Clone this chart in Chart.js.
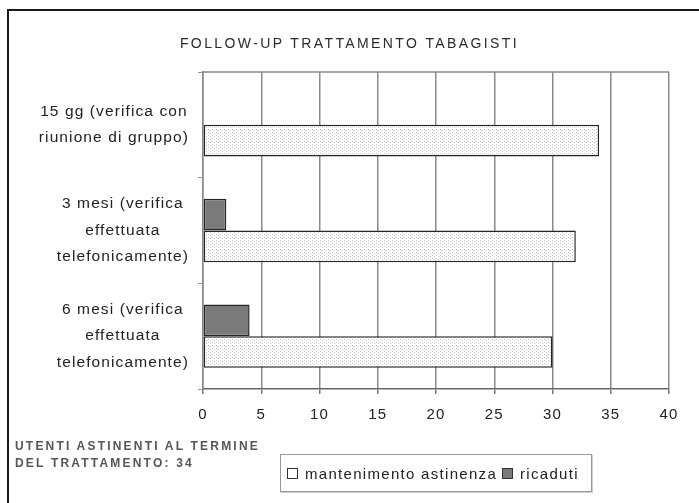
<!DOCTYPE html>
<html>
<head>
<meta charset="utf-8">
<script src="https://cdn.jsdelivr.net/npm/chart.js@4.4.1/dist/chart.umd.min.js"></script>
<style>
  html, body { margin: 0; padding: 0; background: #fff; overflow: hidden; }
  #wrap { position: relative; width: 699px; height: 503px; overflow: hidden; font-family: "Liberation Sans", Arial, sans-serif; }
  #frame { position: absolute; left: 7px; top: 9px; width: 800px; height: 600px; border-top: 2px solid #1a1a1a; border-left: 2px solid #1a1a1a; }
  #c { position: absolute; left: 0; top: 0; }
  #title { position: absolute; left: 0; width: 699px; top: 35px; text-align: center; font-size: 14px; letter-spacing: 2.4px; color: #2a2a2a; padding-left: 0px; box-sizing: border-box; }
  #note { position: absolute; left: 15px; top: 438px; font-size: 12px; font-weight: bold; letter-spacing: 2.2px; line-height: 17px; color: #555; }
  #legend { position: absolute; left: 280px; top: 454px; width: 312px; height: 38px; box-sizing: border-box; border: 1px solid #999; box-shadow: 1px 1px 0 #ccc; display: flex; align-items: center; padding-left: 6px; font-size: 15px; letter-spacing: 1.3px; color: #222; }
  .sw { display: inline-block; width: 9px; height: 9px; border: 1.5px solid #333; margin-right: 7px; }
  .it { display: flex; align-items: center; margin-right: 5px; }
</style>
</head>
<body>
<div id="wrap">
  <div id="frame"></div>
  <canvas id="c" width="699" height="503"></canvas>
  <div id="title"></div>
  <div id="note"></div>
  <div id="legend"></div>
</div>
<script>
const chartTitle = "FOLLOW-UP TRATTAMENTO TABAGISTI";
const categories = [
  ["15 gg (verifica con", "riunione di gruppo)"],
  ["3 mesi (verifica", "effettuata", "telefonicamente)"],
  ["6 mesi (verifica", "effettuata", "telefonicamente)"]
];
const seriesNames = ["mantenimento astinenza", "ricaduti"];
const mantenimento = [34, 32, 30];
const ricaduti = [0, 2, 4];
const noteLines = ["UTENTI ASTINENTI AL TERMINE", "DEL TRATTAMENTO: 34"];
const xMin = 0, xMax = 40, xStep = 5;

document.getElementById('title').textContent = chartTitle;
document.getElementById('note').innerHTML = noteLines.map(s => s.replace(/&/g,'&amp;')).join('<br>');

// dotted pattern for "mantenimento"
const pc = document.createElement('canvas');
pc.width = 4; pc.height = 3;
const px = pc.getContext('2d');
px.fillStyle = '#ffffff'; px.fillRect(0, 0, 4, 3);
px.fillStyle = '#c4c4c4'; px.fillRect(0, 0, 1, 1); px.fillRect(2, 1, 1, 1);
const ctx = document.getElementById('c').getContext('2d');
const dotPattern = ctx.createPattern(pc, 'repeat');

const LABEL_FONT = '15.5px "Liberation Sans"';
const LABEL_LH = 26.4;

const spacingPlugin = {
  id: 'spacing',
  beforeLayout(chart) { chart.ctx.letterSpacing = '1.1px'; },
  beforeDraw(chart) { chart.ctx.letterSpacing = '1.1px'; }
};
const topLinePlugin = {
  id: 'topLine',
  beforeDatasetsDraw(chart) {
    const a = chart.chartArea, c = chart.ctx;
    c.save();
    c.strokeStyle = '#8a8a8a'; c.lineWidth = 1.5;
    c.beginPath(); c.moveTo(a.left, a.top); c.lineTo(a.right, a.top); c.stroke();
    c.restore();
  }
};
// category labels: each block right-aligned to the axis, lines centred within the block
const catLabelPlugin = {
  id: 'catLabels',
  afterDraw(chart) {
    const s = chart.scales.y, c = chart.ctx;
    const rightEdge = s.right - 14;
    c.save();
    c.letterSpacing = '1.1px';
    c.font = LABEL_FONT;
    c.fillStyle = '#222';
    c.textAlign = 'center';
    c.textBaseline = 'middle';
    chart.data.labels.forEach((lines, i) => {
      const arr = Array.isArray(lines) ? lines : [lines];
      const w = Math.max(...arr.map(t => c.measureText(t).width));
      const cx = rightEdge - w / 2;
      const cy = s.getPixelForTick(i);
      arr.forEach((t, j) => {
        c.fillText(t, cx, cy + (j - (arr.length - 1) / 2) * LABEL_LH);
      });
    });
    c.restore();
  }
};

const chart = new Chart(ctx, {
  type: 'bar',
  data: {
    labels: categories,
    datasets: [
      { label: seriesNames[1], data: ricaduti, backgroundColor: '#7a7a7a', borderColor: '#262626', borderWidth: 1.5, borderSkipped: false },
      { label: seriesNames[0], data: mantenimento, backgroundColor: dotPattern, borderColor: '#262626', borderWidth: 1.5, borderSkipped: false }
    ]
  },
  options: {
    indexAxis: 'y',
    responsive: false,
    animation: false,
    layout: { padding: { top: 72, right: 30, bottom: 0, left: 0 } },
    plugins: { legend: { display: false }, title: { display: false }, tooltip: { enabled: false } },
    datasets: { bar: { categoryPercentage: 0.6, barPercentage: 1.0 } },
    scales: {
      x: {
        min: xMin, max: xMax,
        ticks: { stepSize: xStep, color: '#222', font: { family: 'Liberation Sans', size: 15 }, padding: 12, maxRotation: 0 },
        grid: { color: '#8a8a8a', lineWidth: 1.5, tickLength: 5, tickColor: '#777' },
        border: { color: '#666', width: 1.5 },
        afterFit(axis) { axis.height = 114; }
      },
      y: {
        ticks: { color: 'rgba(0,0,0,0)', crossAlign: 'center', padding: 8, font: { family: 'Liberation Sans', size: 15.5, lineHeight: 1.7 } },
        grid: { offset: true, drawOnChartArea: false, tickLength: 5, color: '#999', lineWidth: 1 },
        border: { color: '#888', width: 1.5 },
        afterFit(axis) { axis.width = 203; }
      }
    }
  },
  plugins: [spacingPlugin, topLinePlugin, catLabelPlugin]
});

// HTML legend built from the chart datasets, in legend order
const lg = document.getElementById('legend');
const order = [1, 0];
order.forEach(i => {
  const ds = chart.data.datasets[i];
  const it = document.createElement('span'); it.className = 'it';
  const sw = document.createElement('span'); sw.className = 'sw';
  sw.style.background = (i === 1) ? '#fff' : ds.backgroundColor;
  const tx = document.createElement('span'); tx.textContent = ds.label;
  it.appendChild(sw); it.appendChild(tx); lg.appendChild(it);
});
</script>
</body>
</html>
